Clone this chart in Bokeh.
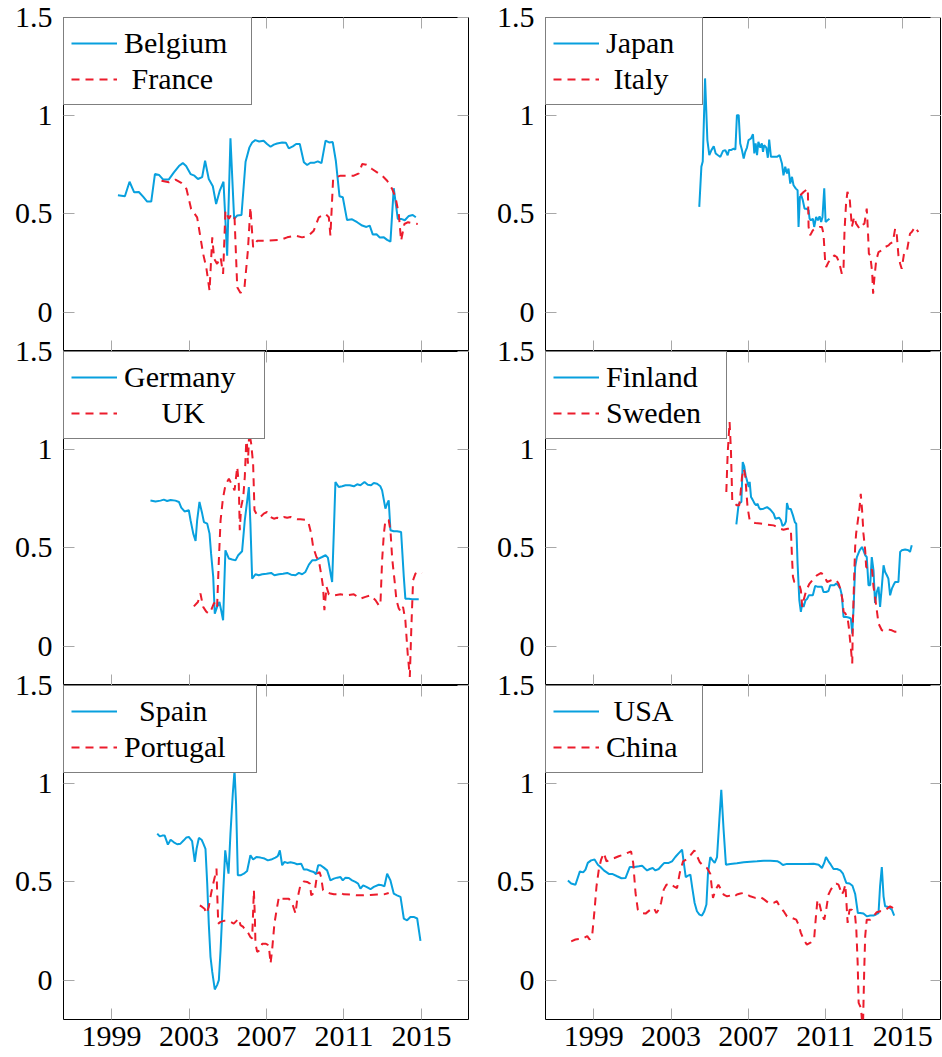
from bokeh.plotting import figure
from bokeh.layouts import row, column
from bokeh.models import (Range1d, FixedTicker, NumeralTickFormatter, LinearAxis,
                          Legend, LegendItem)
from bokeh.embed import file_html
from bokeh.resources import INLINE

# ---------------- data ----------------
belgium_year = [1999.33, 1999.69, 1999.93, 2000.17, 2000.41, 2000.63, 2000.84, 2001.05,
                2001.24, 2001.46, 2001.67, 2001.96, 2002.22, 2002.48, 2002.68, 2002.85,
                2003.08, 2003.28, 2003.46, 2003.68, 2003.83, 2004.02, 2004.23, 2004.40,
                2004.59, 2004.78, 2004.97, 2005.14, 2005.33, 2005.49, 2005.71, 2005.92,
                2006.12, 2006.26, 2006.42, 2006.62, 2006.85, 2007.03, 2007.21, 2007.38,
                2007.55, 2007.81, 2008.00, 2008.15, 2008.36, 2008.53, 2008.72, 2008.93,
                2009.10, 2009.27, 2009.48, 2009.65, 2009.84, 2010.05, 2010.23, 2010.42,
                2010.58, 2010.77, 2010.94, 2011.16, 2011.42, 2011.68, 2011.94, 2012.16,
                2012.33, 2012.49, 2012.68, 2012.85, 2013.06, 2013.23, 2013.40, 2013.57,
                2013.78, 2013.95, 2014.14, 2014.35, 2014.55, 2014.71]
belgium_val = [0.595, 0.590, 0.664, 0.610, 0.612, 0.588, 0.563, 0.563,
               0.703, 0.698, 0.675, 0.676, 0.712, 0.744, 0.759, 0.744,
               0.703, 0.695, 0.678, 0.688, 0.771, 0.678, 0.641, 0.551,
               0.619, 0.664, 0.288, 0.885, 0.475, 0.492, 0.495, 0.766,
               0.839, 0.864, 0.876, 0.869, 0.873, 0.856, 0.842, 0.853,
               0.859, 0.864, 0.863, 0.834, 0.844, 0.856, 0.856, 0.763,
               0.749, 0.761, 0.761, 0.768, 0.759, 0.873, 0.864, 0.866,
               0.771, 0.590, 0.585, 0.469, 0.473, 0.458, 0.441, 0.434,
               0.441, 0.395, 0.397, 0.380, 0.381, 0.368, 0.359, 0.631,
               0.475, 0.475, 0.468, 0.490, 0.495, 0.483]

france_year = [2001.58, 2001.96, 2002.30, 2002.60, 2002.87, 2003.11, 2003.42, 2003.59,
               2003.73, 2003.89, 2004.06, 2004.20, 2004.30, 2004.45, 2004.63, 2004.76,
               2004.88, 2005.06, 2005.19, 2005.35, 2005.49, 2005.66, 2005.86, 2006.04,
               2006.17, 2006.31, 2006.52, 2006.95, 2007.72, 2008.07, 2008.50, 2008.84,
               2009.18, 2009.44, 2009.70, 2010.05, 2010.22, 2010.30, 2010.44, 2010.56,
               2010.82, 2011.25, 2011.51, 2011.77, 2011.94, 2012.16, 2012.45, 2012.71,
               2012.97, 2013.23, 2013.49, 2013.66, 2013.83, 2013.95, 2014.12, 2014.31,
               2014.55, 2014.81]
france_val = [0.669, 0.661, 0.675, 0.658, 0.627, 0.525, 0.483, 0.381,
              0.297, 0.229, 0.110, 0.381, 0.271, 0.246, 0.280, 0.195,
              0.517, 0.475, 0.500, 0.483, 0.127, 0.098, 0.122, 0.314,
              0.534, 0.331, 0.364, 0.363, 0.368, 0.381, 0.390, 0.381,
              0.390, 0.415, 0.483, 0.500, 0.483, 0.390, 0.678, 0.686,
              0.695, 0.695, 0.695, 0.707, 0.754, 0.751, 0.729, 0.712,
              0.695, 0.669, 0.627, 0.585, 0.500, 0.364, 0.449, 0.458,
              0.453, 0.449]

japan_year = [2004.46, 2004.57, 2004.64, 2004.76, 2004.88, 2004.98, 2005.09, 2005.21,
              2005.31, 2005.43, 2005.55, 2005.69, 2005.81, 2005.93, 2006.00, 2006.10,
              2006.24, 2006.33, 2006.41, 2006.50, 2006.58, 2006.67, 2006.76, 2006.84,
              2006.93, 2007.01, 2007.14, 2007.24, 2007.31, 2007.38, 2007.45, 2007.52,
              2007.62, 2007.70, 2007.76, 2007.82, 2007.93, 2008.01, 2008.08, 2008.17,
              2008.31, 2008.48, 2008.62, 2008.74, 2008.82, 2008.91, 2009.00, 2009.08,
              2009.17, 2009.26, 2009.34, 2009.46, 2009.55, 2009.60, 2009.67, 2009.74,
              2009.82, 2009.91, 2010.00, 2010.12, 2010.17, 2010.24, 2010.34, 2010.41,
              2010.51, 2010.60, 2010.69, 2010.77, 2010.84, 2010.93, 2011.00, 2011.10,
              2011.20]
japan_val = [0.536, 0.741, 0.767, 1.190, 0.876, 0.799, 0.825, 0.845,
             0.808, 0.799, 0.791, 0.821, 0.825, 0.799, 0.825, 0.825,
             0.833, 0.828, 1.003, 1.003, 0.859, 0.825, 0.782, 0.816,
             0.838, 0.876, 0.884, 0.906, 0.808, 0.859, 0.799, 0.867,
             0.838, 0.859, 0.816, 0.850, 0.838, 0.786, 0.879, 0.791,
             0.791, 0.791, 0.799, 0.757, 0.697, 0.740, 0.706, 0.731,
             0.655, 0.689, 0.646, 0.629, 0.621, 0.434, 0.587, 0.595,
             0.570, 0.527, 0.527, 0.519, 0.476, 0.468, 0.476, 0.434,
             0.485, 0.468, 0.488, 0.459, 0.485, 0.631, 0.459, 0.468,
             0.476]

italy_year = [2009.69, 2009.86, 2010.08, 2010.12, 2010.20, 2010.34, 2010.46, 2010.68,
              2010.81, 2010.89, 2010.98, 2011.03, 2011.15, 2011.33, 2011.45, 2011.58,
              2011.70, 2011.84, 2011.93, 2011.98, 2012.06, 2012.13, 2012.24, 2012.36,
              2012.48, 2012.58, 2012.76, 2012.88, 2013.01, 2013.13, 2013.19, 2013.24,
              2013.31, 2013.41, 2013.46, 2013.53, 2013.62, 2013.74, 2013.91, 2014.08,
              2014.26, 2014.34, 2014.48, 2014.60, 2014.68, 2014.77, 2014.86, 2014.94,
              2015.06, 2015.20, 2015.29, 2015.37, 2015.46, 2015.63, 2015.80]
italy_val = [0.595, 0.612, 0.629, 0.434, 0.391, 0.417, 0.425, 0.434,
             0.434, 0.400, 0.255, 0.230, 0.255, 0.272, 0.289, 0.281,
             0.255, 0.196, 0.230, 0.417, 0.553, 0.612, 0.587, 0.434,
             0.485, 0.451, 0.425, 0.442, 0.451, 0.527, 0.417, 0.298,
             0.289, 0.204, 0.094, 0.179, 0.264, 0.306, 0.315, 0.332,
             0.340, 0.349, 0.357, 0.425, 0.400, 0.289, 0.247, 0.221,
             0.298, 0.306, 0.357, 0.400, 0.408, 0.434, 0.408]

germany_year = [2001.01, 2001.27, 2001.53, 2001.70, 2001.87, 2002.05, 2002.30, 2002.48,
                2002.60, 2002.77, 2002.99, 2003.08, 2003.22, 2003.34, 2003.42, 2003.54,
                2003.68, 2003.77, 2003.94, 2004.06, 2004.14, 2004.25, 2004.33, 2004.45,
                2004.57, 2004.66, 2004.76, 2004.88, 2005.06, 2005.23, 2005.40, 2005.54,
                2005.74, 2005.88, 2006.09, 2006.17, 2006.26, 2006.43, 2006.60, 2006.78,
                2007.00, 2007.24, 2007.41, 2007.64, 2007.86, 2008.07, 2008.27, 2008.50,
                2008.67, 2008.84, 2009.01, 2009.19, 2009.36, 2009.53, 2009.70, 2009.87,
                2010.05, 2010.17, 2010.31, 2010.39, 2010.48, 2010.56, 2010.73, 2010.91,
                2011.08, 2011.30, 2011.51, 2011.68, 2011.85, 2012.06, 2012.23, 2012.40,
                2012.54, 2012.71, 2012.88, 2012.97, 2013.14, 2013.23, 2013.31, 2013.40,
                2013.57, 2013.74, 2013.95, 2014.09, 2014.17, 2014.35, 2014.52, 2014.74,
                2014.86]
germany_val = [0.742, 0.737, 0.741, 0.746, 0.739, 0.744, 0.741, 0.734,
               0.705, 0.686, 0.692, 0.641, 0.573, 0.536, 0.641, 0.734,
               0.675, 0.632, 0.624, 0.573, 0.471, 0.353, 0.166, 0.200,
               0.225, 0.183, 0.132, 0.488, 0.446, 0.441, 0.437, 0.463,
               0.483, 0.641, 0.810, 0.624, 0.344, 0.366, 0.361, 0.366,
               0.369, 0.373, 0.361, 0.366, 0.369, 0.373, 0.364, 0.361,
               0.373, 0.366, 0.378, 0.415, 0.437, 0.437, 0.446, 0.454,
               0.463, 0.451, 0.369, 0.327, 0.590, 0.836, 0.810, 0.814,
               0.819, 0.819, 0.814, 0.824, 0.819, 0.836, 0.822, 0.819,
               0.831, 0.827, 0.814, 0.793, 0.700, 0.725, 0.742, 0.590,
               0.585, 0.585, 0.581, 0.353, 0.242, 0.242, 0.239, 0.239,
               0.239]

uk_year = [2003.25, 2003.46, 2003.59, 2003.73, 2003.90, 2004.02, 2004.14, 2004.28,
           2004.37, 2004.45, 2004.54, 2004.63, 2004.75, 2004.88, 2005.06, 2005.23,
           2005.35, 2005.49, 2005.57, 2005.62, 2005.69, 2005.80, 2005.88, 2005.97,
           2006.04, 2006.11, 2006.21, 2006.31, 2006.38, 2006.52, 2006.69, 2006.86,
           2007.03, 2007.21, 2007.38, 2007.55, 2007.72, 2007.89, 2008.07, 2008.24,
           2008.41, 2008.58, 2008.75, 2009.01, 2009.18, 2009.31, 2009.41, 2009.58,
           2009.70, 2009.82, 2009.92, 2009.99, 2010.10, 2010.22, 2010.48, 2010.82,
           2011.16, 2011.51, 2011.85, 2012.11, 2012.37, 2012.63, 2012.80, 2012.88,
           2012.97, 2013.06, 2013.14, 2013.31, 2013.40, 2013.49, 2013.61, 2013.71,
           2013.83, 2013.95, 2014.05, 2014.17, 2014.29, 2014.40, 2014.48, 2014.57,
           2014.69, 2014.86, 2015.03]
uk_val = [0.203, 0.225, 0.268, 0.200, 0.175, 0.166, 0.183, 0.217,
          0.225, 0.200, 0.437, 0.641, 0.751, 0.819, 0.853, 0.819,
          0.793, 0.912, 0.827, 0.590, 0.708, 0.759, 0.861, 1.080,
          0.929, 1.090, 1.031, 0.929, 0.692, 0.666, 0.658, 0.675,
          0.683, 0.658, 0.649, 0.654, 0.649, 0.658, 0.654, 0.658,
          0.649, 0.646, 0.646, 0.644, 0.624, 0.573, 0.505, 0.454,
          0.437, 0.369, 0.302, 0.183, 0.302, 0.264, 0.259, 0.264,
          0.259, 0.264, 0.242, 0.251, 0.259, 0.234, 0.208, 0.208,
          0.437, 0.573, 0.641, 0.641, 0.590, 0.446, 0.336, 0.234,
          0.192, 0.175, 0.200, 0.132, -0.037, -0.156, 0.098, 0.336,
          0.369, 0.378, 0.373]

finland_year = [2006.38, 2006.50, 2006.64, 2006.71, 2006.79, 2006.86, 2006.93, 2007.02,
                2007.07, 2007.14, 2007.22, 2007.33, 2007.41, 2007.48, 2007.55, 2007.62,
                2007.79, 2007.97, 2008.14, 2008.31, 2008.40, 2008.59, 2008.69, 2008.77,
                2008.88, 2008.95, 2009.00, 2009.08, 2009.20, 2009.31, 2009.41, 2009.48,
                2009.55, 2009.64, 2009.72, 2009.79, 2009.86, 2009.96, 2010.05, 2010.13,
                2010.34, 2010.46, 2010.60, 2010.81, 2010.89, 2011.03, 2011.15, 2011.24,
                2011.45, 2011.55, 2011.65, 2011.76, 2011.84, 2011.93, 2012.07, 2012.19,
                2012.31, 2012.38, 2012.45, 2012.53, 2012.62, 2012.76, 2012.88, 2012.96,
                2013.05, 2013.13, 2013.22, 2013.31, 2013.39, 2013.48, 2013.56, 2013.65,
                2013.74, 2013.82, 2013.91, 2014.00, 2014.08, 2014.17, 2014.25, 2014.34,
                2014.43, 2014.51, 2014.60, 2014.77, 2014.86, 2014.94, 2015.12, 2015.29,
                2015.37, 2015.46]
finland_val = [0.620, 0.725, 0.734, 0.937, 0.915, 0.869, 0.844, 0.810,
               0.836, 0.759, 0.746, 0.725, 0.717, 0.725, 0.705, 0.697,
               0.700, 0.708, 0.695, 0.675, 0.649, 0.654, 0.641, 0.612,
               0.620, 0.636, 0.729, 0.700, 0.698, 0.666, 0.631, 0.624,
               0.420, 0.234, 0.175, 0.217, 0.200, 0.234, 0.242, 0.259,
               0.259, 0.307, 0.302, 0.302, 0.276, 0.276, 0.281, 0.310,
               0.310, 0.319, 0.310, 0.293, 0.259, 0.149, 0.149, 0.146,
               0.141, 0.064, 0.200, 0.403, 0.454, 0.488, 0.505, 0.488,
               0.463, 0.454, 0.310, 0.310, 0.454, 0.386, 0.220, 0.276,
               0.302, 0.200, 0.302, 0.412, 0.378, 0.361, 0.344, 0.259,
               0.293, 0.310, 0.327, 0.327, 0.480, 0.488, 0.492, 0.488,
               0.480, 0.514]

sweden_year = [2005.86, 2005.93, 2006.03, 2006.10, 2006.17, 2006.41, 2006.53, 2006.58,
               2006.67, 2006.76, 2006.84, 2006.90, 2006.96, 2007.07, 2007.19, 2007.36,
               2007.62, 2007.97, 2008.31, 2008.48, 2008.65, 2008.82, 2009.03, 2009.20,
               2009.26, 2009.31, 2009.38, 2009.51, 2009.65, 2009.72, 2009.79, 2009.86,
               2010.00, 2010.17, 2010.38, 2010.55, 2010.77, 2010.93, 2011.07, 2011.20,
               2011.38, 2011.55, 2011.67, 2011.76, 2011.88, 2011.93, 2012.03, 2012.14,
               2012.20, 2012.31, 2012.38, 2012.41, 2012.48, 2012.53, 2012.58, 2012.65,
               2012.76, 2012.82, 2012.89, 2012.96, 2013.05, 2013.10, 2013.22, 2013.31,
               2013.41, 2013.48, 2013.56, 2013.65, 2013.74, 2013.91, 2014.08, 2014.25,
               2014.43, 2014.60, 2014.86]
sweden_val = [0.785, 0.980, 1.141, 0.997, 0.734, 0.717, 0.717, 0.759,
              0.861, 0.903, 0.869, 0.785, 0.708, 0.641, 0.632, 0.627,
              0.624, 0.619, 0.615, 0.607, 0.598, 0.593, 0.598, 0.598,
              0.454, 0.353, 0.327, 0.319, 0.310, 0.285, 0.200, 0.234,
              0.285, 0.319, 0.344, 0.361, 0.373, 0.361, 0.327, 0.332,
              0.339, 0.336, 0.319, 0.293, 0.234, 0.175, 0.166, 0.141,
              0.098, -0.012, -0.088, 0.115, 0.353, 0.505, 0.573, 0.624,
              0.708, 0.776, 0.692, 0.573, 0.488, 0.403, 0.395, 0.403,
              0.386, 0.302, 0.251, 0.183, 0.115, 0.081, 0.078, 0.085,
              0.081, 0.073, 0.073]

spain_year = [2001.36, 2001.49, 2001.62, 2001.74, 2001.91, 2002.05, 2002.22, 2002.39,
              2002.56, 2002.73, 2002.87, 2002.99, 2003.16, 2003.30, 2003.39, 2003.51,
              2003.65, 2003.73, 2003.85, 2003.94, 2004.02, 2004.11, 2004.20, 2004.33,
              2004.45, 2004.54, 2004.63, 2004.75, 2004.87, 2004.94, 2005.04, 2005.14,
              2005.26, 2005.35, 2005.43, 2005.52, 2005.66, 2005.83, 2006.00, 2006.17,
              2006.31, 2006.48, 2006.69, 2006.90, 2007.07, 2007.24, 2007.46, 2007.58,
              2007.69, 2007.81, 2007.93, 2008.07, 2008.24, 2008.41, 2008.58, 2008.79,
              2008.93, 2009.10, 2009.27, 2009.44, 2009.56, 2009.67, 2009.79, 2009.96,
              2010.13, 2010.30, 2010.48, 2010.65, 2010.82, 2010.94, 2011.08, 2011.25,
              2011.42, 2011.59, 2011.73, 2011.85, 2011.99, 2012.16, 2012.37, 2012.54,
              2012.80, 2012.97, 2013.09, 2013.23, 2013.40, 2013.57, 2013.74, 2013.92,
              2014.09, 2014.26, 2014.43, 2014.60, 2014.78, 2014.95]
spain_val = [0.746, 0.732, 0.736, 0.737, 0.690, 0.715, 0.702, 0.692,
             0.695, 0.712, 0.727, 0.729, 0.708, 0.602, 0.669, 0.724,
             0.715, 0.698, 0.669, 0.492, 0.288, 0.119, 0.042, -0.047,
             -0.025, 0.000, 0.153, 0.415, 0.661, 0.610, 0.542, 0.746,
             0.949, 1.068, 0.898, 0.534, 0.534, 0.542, 0.556, 0.636,
             0.614, 0.627, 0.624, 0.619, 0.610, 0.614, 0.624, 0.631,
             0.661, 0.585, 0.602, 0.597, 0.600, 0.597, 0.590, 0.593,
             0.563, 0.563, 0.556, 0.551, 0.539, 0.585, 0.585, 0.573,
             0.559, 0.508, 0.517, 0.522, 0.525, 0.508, 0.522, 0.520,
             0.508, 0.500, 0.492, 0.466, 0.483, 0.475, 0.463, 0.475,
             0.486, 0.483, 0.478, 0.542, 0.508, 0.441, 0.432, 0.424,
             0.314, 0.305, 0.322, 0.322, 0.314, 0.200]

portugal_year = [2003.56, 2003.68, 2003.80, 2003.90, 2004.02, 2004.14, 2004.25, 2004.33,
                 2004.42, 2004.45, 2004.51, 2004.63, 2004.80, 2004.97, 2005.14, 2005.31,
                 2005.57, 2005.66, 2005.80, 2005.92, 2006.05, 2006.17, 2006.26, 2006.35,
                 2006.40, 2006.43, 2006.52, 2006.66, 2006.78, 2006.95, 2007.12, 2007.21,
                 2007.29, 2007.41, 2007.52, 2007.64, 2007.81, 2007.98, 2008.15, 2008.32,
                 2008.50, 2008.58, 2008.75, 2008.93, 2009.10, 2009.24, 2009.31, 2009.41,
                 2009.51, 2009.62, 2009.74, 2009.82, 2009.92, 2010.10, 2010.30, 2010.48,
                 2010.65, 2010.82, 2010.99, 2011.34, 2011.68, 2012.02, 2012.37, 2012.71,
                 2013.06, 2013.31]
portugal_val = [0.381, 0.373, 0.364, 0.339, 0.373, 0.441, 0.492, 0.525,
                0.568, 0.458, 0.288, 0.297, 0.302, 0.302, 0.297, 0.288,
                0.314, 0.280, 0.271, 0.254, 0.241, 0.220, 0.212, 0.458,
                0.322, 0.186, 0.144, 0.153, 0.186, 0.186, 0.178, 0.085,
                0.153, 0.288, 0.356, 0.424, 0.415, 0.415, 0.415, 0.393,
                0.339, 0.407, 0.483, 0.503, 0.500, 0.492, 0.432, 0.441,
                0.466, 0.542, 0.551, 0.525, 0.458, 0.449, 0.441, 0.437,
                0.437, 0.444, 0.437, 0.436, 0.432, 0.432, 0.434, 0.436,
                0.437, 0.444]

usa_year = [1997.66, 1997.83, 1998.05, 1998.28, 1998.45, 1998.57, 1998.69, 1998.86,
            1999.04, 1999.21, 1999.35, 1999.52, 1999.78, 1999.95, 2000.21, 2000.43,
            2000.64, 2000.86, 2001.10, 2001.33, 2001.50, 2001.62, 2001.76, 2001.90,
            2002.05, 2002.19, 2002.36, 2002.53, 2002.65, 2002.88, 2003.05, 2003.22,
            2003.40, 2003.57, 2003.65, 2003.76, 2003.88, 2004.00, 2004.10, 2004.22,
            2004.34, 2004.47, 2004.60, 2004.72, 2004.83, 2004.91, 2005.03, 2005.15,
            2005.26, 2005.38, 2005.50, 2005.60, 2005.72, 2005.84, 2006.07, 2006.41,
            2006.76, 2007.10, 2007.45, 2007.79, 2008.14, 2008.52, 2008.66, 2008.79,
            2009.00, 2009.34, 2009.69, 2010.03, 2010.38, 2010.64, 2010.81, 2010.93,
            2011.02, 2011.15, 2011.27, 2011.41, 2011.59, 2011.76, 2011.90, 2012.07,
            2012.24, 2012.39, 2012.53, 2012.67, 2012.79, 2012.96, 2013.13, 2013.31,
            2013.48, 2013.65, 2013.74, 2013.82, 2013.91, 2014.00, 2014.08, 2014.26,
            2014.43, 2014.55]
usa_val = [0.507, 0.492, 0.486, 0.554, 0.549, 0.563, 0.597, 0.610,
           0.614, 0.588, 0.576, 0.559, 0.541, 0.541, 0.529, 0.519,
           0.520, 0.576, 0.576, 0.580, 0.583, 0.571, 0.559, 0.566,
           0.571, 0.559, 0.566, 0.585, 0.597, 0.597, 0.605, 0.627,
           0.647, 0.664, 0.605, 0.525, 0.532, 0.537, 0.469, 0.393,
           0.351, 0.334, 0.329, 0.351, 0.385, 0.542, 0.627, 0.610,
           0.597, 0.627, 0.817, 0.969, 0.766, 0.588, 0.592, 0.595,
           0.600, 0.603, 0.605, 0.608, 0.608, 0.605, 0.597, 0.586,
           0.592, 0.592, 0.592, 0.592, 0.593, 0.588, 0.571, 0.597,
           0.627, 0.605, 0.588, 0.566, 0.566, 0.559, 0.542, 0.495,
           0.492, 0.481, 0.439, 0.342, 0.342, 0.339, 0.325, 0.329,
           0.329, 0.337, 0.342, 0.478, 0.576, 0.427, 0.376, 0.373,
           0.359, 0.329]

china_year = [1997.83, 1998.05, 1998.28, 1998.48, 1998.66, 1998.79, 1998.92, 1999.04,
              1999.14, 1999.26, 1999.38, 1999.52, 1999.66, 1999.86, 2000.07, 2000.29,
              2000.55, 2000.81, 2000.93, 2001.04, 2001.16, 2001.28, 2001.45, 2001.68,
              2001.93, 2002.11, 2002.24, 2002.36, 2002.48, 2002.62, 2002.76, 2002.97,
              2003.14, 2003.31, 2003.45, 2003.62, 2003.83, 2004.03, 2004.21, 2004.35,
              2004.49, 2004.69, 2004.86, 2005.03, 2005.17, 2005.31, 2005.45, 2005.59,
              2005.72, 2005.90, 2006.07, 2006.24, 2006.41, 2006.59, 2006.76, 2006.93,
              2007.10, 2007.36, 2007.62, 2007.83, 2008.05, 2008.31, 2008.48, 2008.62,
              2008.83, 2009.00, 2009.26, 2009.48, 2009.60, 2009.72, 2009.86, 2010.03,
              2010.24, 2010.41, 2010.50, 2010.58, 2010.69, 2010.81, 2010.93, 2011.03,
              2011.15, 2011.27, 2011.41, 2011.55, 2011.67, 2011.76, 2011.84, 2011.93,
              2012.02, 2012.07, 2012.14, 2012.24, 2012.36, 2012.45, 2012.53, 2012.59,
              2012.66, 2012.71, 2012.83, 2012.93, 2013.00, 2013.05, 2013.13, 2013.31,
              2013.48, 2013.65, 2013.82, 2014.00, 2014.17, 2014.34, 2014.48, 2014.65]
china_val = [0.198, 0.207, 0.210, 0.215, 0.224, 0.207, 0.232, 0.358,
             0.478, 0.563, 0.614, 0.647, 0.605, 0.614, 0.622, 0.631,
             0.639, 0.651, 0.656, 0.597, 0.444, 0.359, 0.342, 0.339,
             0.359, 0.368, 0.342, 0.359, 0.393, 0.461, 0.486, 0.492,
             0.478, 0.469, 0.546, 0.605, 0.617, 0.639, 0.661, 0.631,
             0.600, 0.580, 0.571, 0.542, 0.419, 0.461, 0.486, 0.461,
             0.436, 0.427, 0.431, 0.424, 0.436, 0.441, 0.444, 0.436,
             0.427, 0.419, 0.424, 0.410, 0.393, 0.393, 0.402, 0.376,
             0.351, 0.325, 0.317, 0.308, 0.283, 0.241, 0.207, 0.181,
             0.193, 0.215, 0.325, 0.410, 0.385, 0.334, 0.308, 0.359,
             0.436, 0.461, 0.481, 0.492, 0.486, 0.461, 0.436, 0.453,
             0.486, 0.410, 0.292, 0.359, 0.359, 0.342, 0.325, 0.258,
             0.088, -0.115, -0.141, -0.260, 0.054, 0.224, 0.308, 0.308,
             0.325, 0.346, 0.351, 0.351, 0.363, 0.376, 0.368, 0.359]

x_ticks = [1999, 2003, 2007, 2011, 2015]
y_ticks = [0, 0.5, 1, 1.5]
y_limits = (-0.2, 1.5)
x_limits_left = (1996.52, 2017.43)
x_limits_right = (1996.5, 2017.0)

NB = "\u00a0"
panels = [
    # (column, row, series1 name, x1, y1, series2 name, x2, y2, legend label width)
    (0, 0, "Belgium", belgium_year, belgium_val, NB + "France", france_year, france_val, 120),
    (1, 0, "Japan", japan_year, japan_val, NB + "Italy", italy_year, italy_val, 89),
    (0, 1, "Germany", germany_year, germany_val, NB * 5 + "UK", uk_year, uk_val, 133),
    (1, 1, "Finland", finland_year, finland_val, "Sweden", sweden_year, sweden_val, 113),
    (0, 2, NB * 2 + "Spain", spain_year, spain_val, "Portugal", portugal_year, portugal_val, 125),
    (1, 2, NB + "USA", usa_year, usa_val, "China", china_year, china_val, 89),
]

# ---------------- styling ----------------
FONT = "Liberation Serif"
BLUE = "#08a0de"
RED = "#ec1c2c"
TICK_COLOR = "#a8a8a8"
OVERLAP = 20  # lower rows reach up over the row above so "1.5" is not clipped


def style_axis(ax, ticks, show_labels, standoff, fmt=None):
    ax.ticker = FixedTicker(ticks=ticks)
    ax.axis_line_color = None
    ax.major_tick_in = 11
    ax.major_tick_out = 0
    ax.major_tick_line_color = TICK_COLOR
    ax.major_tick_line_width = 1
    ax.minor_tick_line_color = None
    if fmt is not None:
        ax.formatter = fmt
    if show_labels:
        ax.major_label_text_font = FONT
        ax.major_label_text_font_size = "30px"
        ax.major_label_text_color = "black"
        ax.major_label_standoff = standoff
    else:
        ax.major_label_text_color = None
        ax.major_label_text_font_size = "1px"
        ax.major_label_standoff = 0


def make_panel(col, rowi, n1, x1, y1, n2, x2, y2, lw):
    left = col == 0
    xl = x_limits_left if left else x_limits_right
    width = 493 if left else 448
    b_left = 63 if left else 52
    b_right = 25 if left else 0
    b_top = 17 if rowi == 0 else OVERLAP
    b_bottom = 38 if rowi == 2 else 0
    height = b_top + 334 + b_bottom
    p = figure(width=width, height=height,
               x_range=Range1d(*xl), y_range=Range1d(*y_limits),
               output_backend="svg", toolbar_location=None,
               min_border_left=b_left, min_border_right=b_right,
               min_border_top=b_top, min_border_bottom=b_bottom)
    if rowi > 0:
        p.border_fill_color = None
    p.background_fill_color = "white"
    p.grid.visible = False
    p.outline_line_color = "black"
    p.outline_line_width = 1

    style_axis(p.xaxis[0], x_ticks, rowi == 2, 7, NumeralTickFormatter(format="0"))
    style_axis(p.yaxis[0], y_ticks, True, 11, NumeralTickFormatter(format="0.[0]"))
    ax_r = LinearAxis()
    style_axis(ax_r, y_ticks, False, 0)
    p.add_layout(ax_r, "right")
    ax_t = LinearAxis()
    style_axis(ax_t, x_ticks, False, 0)
    p.add_layout(ax_t, "above")

    r1 = p.line(x1, y1, line_color=BLUE, line_width=2)
    r2 = p.line(x2, y2, line_color=RED, line_width=2, line_dash="8 6")

    legend = Legend(items=[LegendItem(label=n1, renderers=[r1]),
                           LegendItem(label=n2, renderers=[r2])],
                    location="top_left", margin=0, padding=7, spacing=0,
                    glyph_width=46, glyph_height=36, label_height=36,
                    label_width=lw, label_standoff=7,
                    label_text_font=FONT, label_text_font_size="30px",
                    label_text_color="black",
                    border_line_color="black", border_line_width=1,
                    background_fill_color="white", background_fill_alpha=1.0)
    p.add_layout(legend)
    return p


figs = {}
for (c, r, n1, x1, y1, n2, x2, y2, lw) in panels:
    figs[(c, r)] = make_panel(c, r, n1, x1, y1, n2, x2, y2, lw)

row0 = row(figs[(0, 0)], figs[(1, 0)])
row1 = row(figs[(0, 1)], figs[(1, 1)], margin=(-OVERLAP, 0, 0, 0))
row2 = row(figs[(0, 2)], figs[(1, 2)], margin=(-OVERLAP, 0, 0, 0))
layout = column(row0, row1, row2)

open("out.html", "w").write(file_html(layout, INLINE))
